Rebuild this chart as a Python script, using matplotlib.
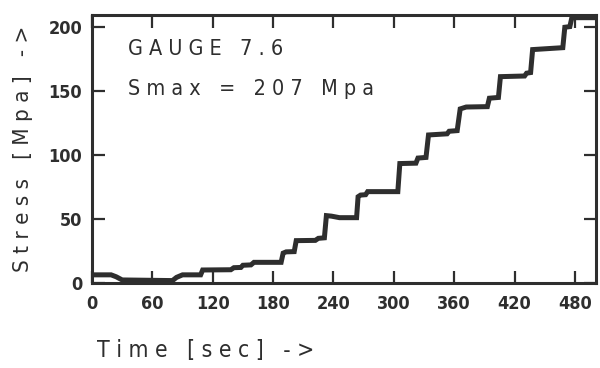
import matplotlib
matplotlib.use("Agg")
import matplotlib.pyplot as plt

# Data (time in s, stress in MPa)
time_s = [0, 19, 24, 30, 80, 84, 90, 108, 110, 138, 141, 148, 150, 158, 161, 188,
          190, 193, 201, 203, 222, 225, 231, 233, 238, 246, 263, 264.5, 267, 272, 274,
          304, 306, 322, 324, 332, 334.5, 353, 355, 363, 366, 372, 393, 395, 404, 406,
          430, 432, 436, 438, 468, 470, 475, 477, 500]
stress = [6, 6, 4.5, 2, 1.5, 4, 6, 6, 9.8, 10, 11.6, 11.8, 13.5, 13.8, 15.8, 15.8,
          23, 24, 24.2, 32.8, 33, 34.6, 35, 52.4, 52, 50.8, 50.8, 67.2, 68.5, 68.8, 71.2,
          71.2, 93.2, 93.5, 97.5, 98, 115.6, 116.5, 118.5, 119, 136, 137.5, 137.8, 144.4, 145, 161.3,
          161.8, 164, 164.5, 182.5, 184, 200, 200.5, 207.5, 207.5]

x_ticks = [0, 60, 120, 180, 240, 300, 360, 420, 480]
y_ticks = [0, 50, 100, 150, 200]

title_lines = ["G A U G E   7 . 6", "S m a x   =   2 0 7   M p a"]
x_label = "T i m e   [ s e c ]   - >"
y_label = "S t r e s s   [ M p a ]   - >"

ink = "#2e2e2e"
fam = ["DejaVu Sans"]

fig = plt.figure(figsize=(6.0, 3.68), dpi=100)
ax = fig.add_axes([92/600, 1-282.5/368, (596-92)/600, (282.5-15)/368])

ax.plot(time_s, stress, color=ink, lw=3.6, solid_joinstyle="miter", clip_on=True)

ax.set_xlim(0, 501)
ax.set_ylim(0, 209.6)
ax.set_xticks(x_ticks)
ax.set_yticks(y_ticks)
tick_kw = dict(fontfamily=fam, fontweight="bold", fontsize=13, fontstretch="condensed")
ax.set_xticklabels([str(v) for v in x_ticks], **tick_kw)
ax.set_yticklabels([str(v) for v in y_ticks], **tick_kw)
ax.tick_params(axis="x", pad=9)
ax.tick_params(axis="y", pad=7)
ax.tick_params(direction="in", length=9, width=1.6, color=ink, top=True, right=True,
               labelcolor=ink)
for sp in ax.spines.values():
    sp.set_linewidth(2.2)
    sp.set_color(ink)

txt_kw = dict(fontfamily=fam, fontstretch="condensed", color=ink)
fig.text(128/600, 1-49/368, title_lines[0], fontsize=15.5, ha="left", va="center", **txt_kw)
fig.text(128/600, 1-89/368, title_lines[1], fontsize=15.5, ha="left", va="center", **txt_kw)
fig.text(97/600, 1-350/368, x_label, fontsize=16.5, ha="left", va="center", **txt_kw)
fig.text(23/600, 1-148.5/368, y_label, fontsize=16, ha="center", va="center",
         rotation=90, **txt_kw)

fig.savefig("out.png", dpi=100)
